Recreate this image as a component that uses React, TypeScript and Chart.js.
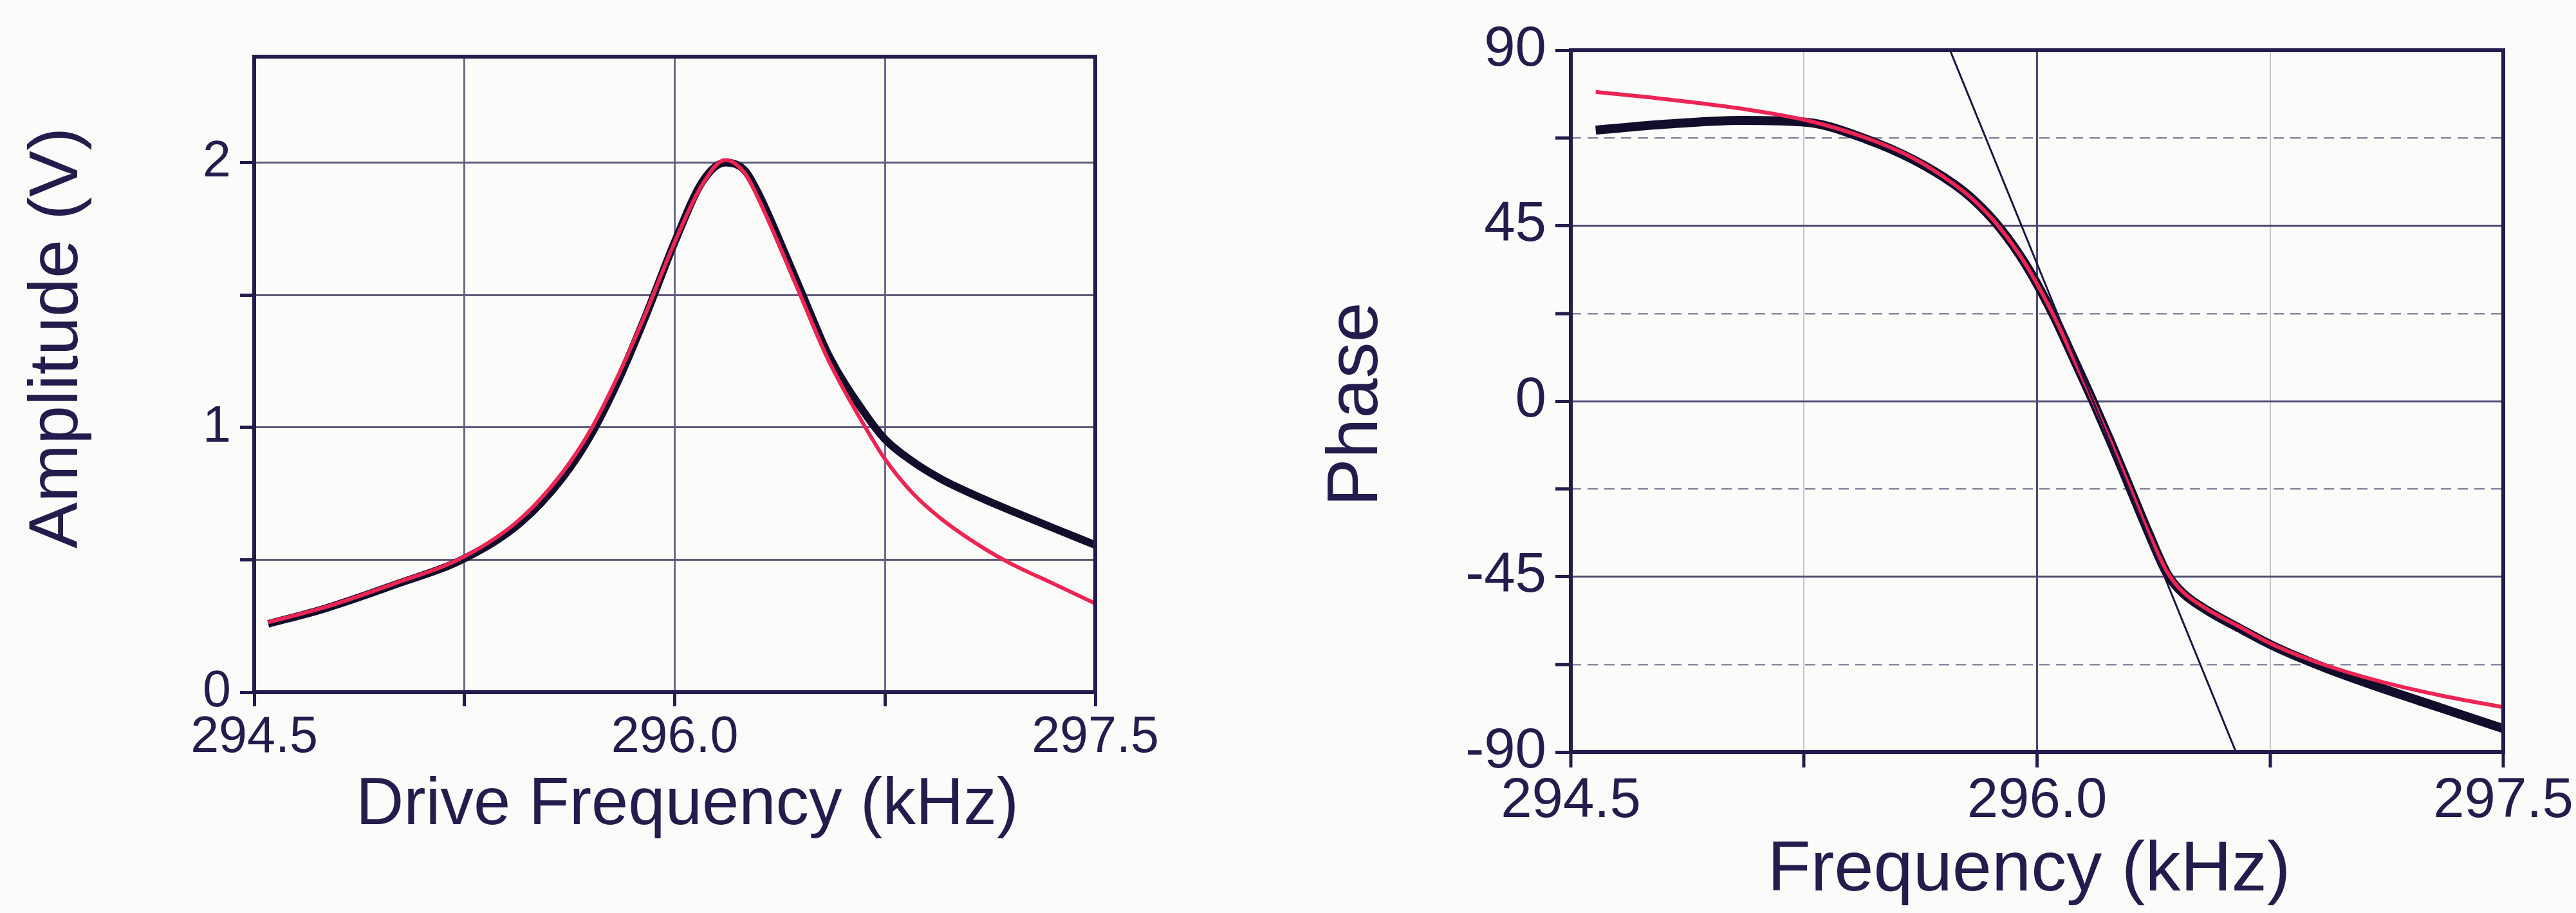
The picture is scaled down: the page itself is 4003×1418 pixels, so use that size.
import React, { useEffect, useRef } from 'react';
import { Chart, registerables } from 'chart.js';

Chart.register(...registerables);

// ---------------- DATA ----------------
// Left panel: amplitude vs drive frequency
const ampFreq = [294.55, 294.75, 295.0, 295.25, 295.45, 295.6, 295.7, 295.8, 295.9, 296.0, 296.1, 296.18, 296.25, 296.3, 296.4, 296.46, 296.55, 296.68, 296.75, 296.85, 296.95, 297.1, 297.2, 297.35, 297.5];
const ampMeasured = [0.258, 0.315, 0.405, 0.505, 0.64, 0.81, 0.97, 1.18, 1.43, 1.7, 1.93, 2.0, 1.97, 1.88, 1.64, 1.49, 1.27, 1.05, 0.955, 0.87, 0.805, 0.73, 0.685, 0.62, 0.556];
const ampFit = [0.264, 0.32, 0.41, 0.512, 0.655, 0.83, 0.99, 1.2, 1.44, 1.7, 1.92, 2.01, 1.96, 1.86, 1.62, 1.47, 1.25, 1.0, 0.88, 0.75, 0.655, 0.545, 0.485, 0.41, 0.335];

// Right panel: phase vs frequency
const phaseFreq = [294.58, 294.8, 295.05, 295.26, 295.45, 295.6, 295.73, 295.8, 295.88, 295.96, 296.05, 296.12, 296.18, 296.24, 296.3, 296.36, 296.42, 296.47, 296.55, 296.65, 296.76, 296.92, 297.1, 297.3, 297.5];
const phaseMeasured = [69.5, 71.0, 72.0, 71.5, 67.2, 62.0, 55.8, 51.3, 44.5, 35.5, 22.5, 10.5, 0, -11, -22.5, -34, -44.5, -49.3, -53.8, -58.2, -62.8, -68.2, -73.4, -78.7, -84.0];
const phaseFit = [79.3, 77.5, 75.0, 72.0, 67.5, 62.4, 55.8, 51.3, 44.5, 35.5, 22.5, 10.5, 0, -11, -22.5, -34, -44, -49, -53.5, -57.8, -62.5, -67.5, -71.8, -75.5, -78.5];

// Straight tangent line through the resonance
const tangentFreq = [295.72, 296.64];
const tangentPhase = [90, -90];

// Tick labels
const freqTickValues = [294.5, 296.0, 297.5];
const freqTickLabels = ['294.5', '296.0', '297.5'];
const ampTickValues = [0, 1, 2];
const ampTickLabels = ['0', '1', '2'];
const phaseTickValues = [-90, -45, 0, 45, 90];
const phaseTickLabels = ['-90', '-45', '0', '45', '90'];

// ---------------- STYLE ----------------
const FONT = '"Liberation Sans", Arial, Helvetica, sans-serif';
const INK = '#241c4c';
const RED = '#ec2554';
const BLACK = '#130d2c';

const labelFrom = (values: number[], labels: string[]) => (v: any) => {
  const n = Number(v);
  for (let i = 0; i < values.length; i++) {
    if (Math.abs(values[i] - n) < 1e-6) return labels[i];
  }
  return '';
};

const toPoints = (xs: number[], ys: number[]) => xs.map((x, i) => ({ x, y: ys[i] }));

const framePlugin = {
  id: 'frame',
  afterDatasetsDraw(chart: any) {
    const { ctx, chartArea: a } = chart;
    ctx.save();
    ctx.strokeStyle = INK;
    ctx.lineWidth = 6;
    ctx.strokeRect(a.left, a.top, a.right - a.left, a.bottom - a.top);
    ctx.restore();
  },
};

type TitleItem = { text: string; x: number; y: number; size: number; rotate?: boolean };
const makeTitlesPlugin = (items: TitleItem[]) => ({
  id: 'axisTitles',
  afterDraw(chart: any) {
    const ctx = chart.ctx;
    for (const t of items) {
      ctx.save();
      ctx.font = `${t.size}px ${FONT}`;
      ctx.fillStyle = INK;
      ctx.textAlign = 'center';
      ctx.textBaseline = 'alphabetic';
      ctx.translate(t.x, t.y);
      if (t.rotate) ctx.rotate(-Math.PI / 2);
      ctx.fillText(t.text, 0, 0);
      ctx.restore();
    }
  },
});

function buildAmplitude(canvas: HTMLCanvasElement) {
  return new Chart(canvas, {
    type: 'line',
    data: {
      datasets: [
        {
          label: 'Fit',
          data: toPoints(ampFreq, ampFit),
          borderColor: RED,
          borderWidth: 6,
          pointRadius: 0,
          cubicInterpolationMode: 'monotone',
          order: 0,
        },
        {
          label: 'Measured',
          data: toPoints(ampFreq, ampMeasured),
          borderColor: BLACK,
          borderWidth: 12,
          pointRadius: 0,
          cubicInterpolationMode: 'monotone',
          order: 1,
        },
      ],
    } as any,
    options: {
      responsive: false,
      animation: false,
      devicePixelRatio: 1,
      events: [],
      layout: { padding: { left: 0, top: 88, right: 298, bottom: 0 } },
      plugins: { legend: { display: false }, tooltip: { enabled: false } },
      scales: {
        x: {
          type: 'linear',
          min: 294.5,
          max: 297.5,
          afterFit: (s: any) => { s.height = 343; },
          ticks: {
            stepSize: 0.75,
            autoSkip: false,
            maxRotation: 0,
            minRotation: 0,
            padding: 2,
            color: INK,
            font: { family: FONT, size: 79 },
            callback: labelFrom(freqTickValues, freqTickLabels),
          },
          grid: { color: '#6d6a86', lineWidth: 3, tickLength: 22, tickWidth: 5, tickColor: INK },
          border: { display: false },
        },
        y: {
          type: 'linear',
          min: 0,
          max: 2.4,
          afterFit: (s: any) => { s.width = 395; },
          ticks: {
            stepSize: 0.5,
            includeBounds: false,
            padding: 14,
            color: INK,
            font: { family: FONT, size: 79 },
            callback: labelFrom(ampTickValues, ampTickLabels),
          },
          grid: { color: '#5e5a7a', lineWidth: 3, tickLength: 22, tickWidth: 5, tickColor: INK },
          border: { display: false },
        },
      },
    } as any,
    plugins: [
      framePlugin,
      makeTitlesPlugin([
        { text: 'Amplitude (V)', x: 120, y: 525, size: 108, rotate: true },
        { text: 'Drive Frequency (kHz)', x: 1068, y: 1280, size: 103 },
      ]),
    ] as any,
  });
}

function buildPhase(canvas: HTMLCanvasElement) {
  const isMajor = (ctx: any) => ctx.tick && Math.abs(ctx.tick.value % 45) < 1e-6;
  return new Chart(canvas, {
    type: 'line',
    data: {
      datasets: [
        {
          label: 'Tangent',
          data: toPoints(tangentFreq, tangentPhase),
          borderColor: '#1c1540',
          borderWidth: 3,
          pointRadius: 0,
          order: 0,
        },
        {
          label: 'Fit',
          data: toPoints(phaseFreq, phaseFit),
          borderColor: RED,
          borderWidth: 6,
          pointRadius: 0,
          cubicInterpolationMode: 'monotone',
          order: 1,
        },
        {
          label: 'Measured',
          data: toPoints(phaseFreq, phaseMeasured),
          borderColor: BLACK,
          borderWidth: 14,
          pointRadius: 0,
          cubicInterpolationMode: 'monotone',
          order: 2,
        },
      ],
    } as any,
    options: {
      responsive: false,
      animation: false,
      devicePixelRatio: 1,
      events: [],
      layout: { padding: { left: 0, top: 78, right: 113, bottom: 0 } },
      plugins: { legend: { display: false }, tooltip: { enabled: false } },
      scales: {
        x: {
          type: 'linear',
          min: 294.5,
          max: 297.5,
          afterFit: (s: any) => { s.height = 250; },
          ticks: {
            stepSize: 0.75,
            autoSkip: false,
            maxRotation: 0,
            minRotation: 0,
            padding: 1,
            color: INK,
            font: { family: FONT, size: 87 },
            callback: labelFrom(freqTickValues, freqTickLabels),
          },
          grid: {
            color: (ctx: any) => (ctx.tick && Math.abs(ctx.tick.value - 296) < 1e-6 ? '#4d4972' : '#c4c3cf'),
            lineWidth: (ctx: any) => (ctx.tick && Math.abs(ctx.tick.value - 296) < 1e-6 ? 3 : 2),
            tickLength: 24,
            tickWidth: 5,
            tickColor: INK,
          },
          border: { display: false },
        },
        y: {
          type: 'linear',
          min: -90,
          max: 90,
          afterFit: (s: any) => { s.width = 441; },
          ticks: {
            stepSize: 22.5,
            padding: 14,
            color: INK,
            font: { family: FONT, size: 87 },
            callback: labelFrom(phaseTickValues, phaseTickLabels),
          },
          grid: {
            color: (ctx: any) => (isMajor(ctx) ? '#4d4972' : '#8a88a0'),
            lineWidth: (ctx: any) => (isMajor(ctx) ? 3 : 2.5),
            tickLength: 24,
            tickWidth: 5,
            tickColor: INK,
          },
          border: {
            display: false,
            dash: (ctx: any) => (ctx.tick && !isMajor(ctx) ? [16, 10] : []),
          },
        },
      },
    } as any,
    plugins: [
      framePlugin,
      makeTitlesPlugin([
        { text: 'Phase', x: 140, y: 628, size: 112, rotate: true },
        { text: 'Frequency (kHz)', x: 1153, y: 1383, size: 110 },
      ]),
    ] as any,
  });
}

export default function App() {
  const leftRef = useRef<HTMLCanvasElement>(null);
  const rightRef = useRef<HTMLCanvasElement>(null);

  useEffect(() => {
    const c1 = buildAmplitude(leftRef.current!);
    const c2 = buildPhase(rightRef.current!);
    return () => {
      c1.destroy();
      c2.destroy();
    };
  }, []);

  return (
    <div
      style={{
        position: 'absolute',
        left: 0,
        top: 0,
        width: 4003,
        height: 1418,
        background: '#fbfbfa',
        overflow: 'hidden',
      }}
    >
      <canvas ref={leftRef} width={2000} height={1418} style={{ position: 'absolute', left: 0, top: 0 }} />
      <canvas ref={rightRef} width={2003} height={1418} style={{ position: 'absolute', left: 2000, top: 0 }} />
    </div>
  );
}
